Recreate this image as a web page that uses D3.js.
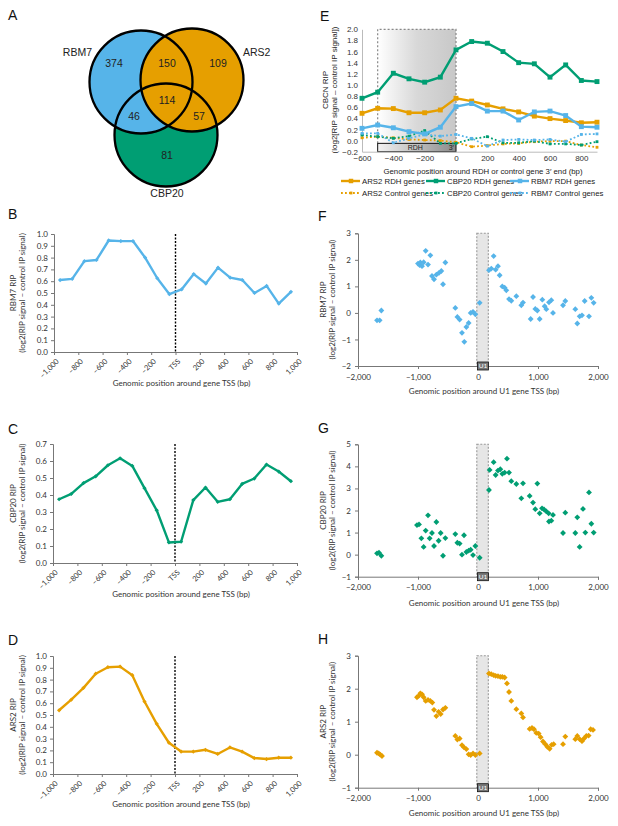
<!doctype html>
<html>
<head>
<meta charset="utf-8">
<style>
  body { margin: 0; background: #fff; }
  svg text { font-family: Lato, "Open Sans", sans-serif; fill: #333; }
  .arial text { font-family: "Liberation Sans", Arial, sans-serif; fill: #222; }
</style>
</head>
<body>
<svg id="fig" width="618" height="826"></svg>
<script src="https://d3js.org/d3.v7.min.js"></script>
<script>
// ---- data ----
var vennSets = ['RBM7', 'ARS2', 'CBP20'];
var vennRegions = ['RBM7', 'RBM7&ARS2', 'ARS2', 'RBM7&ARS2&CBP20', 'RBM7&CBP20', 'ARS2&CBP20', 'CBP20'];
var vennCounts = [374, 150, 109, 114, 46, 57, 81];

var tssPos = [-950, -850, -750, -650, -550, -450, -350, -250, -150, -50, 50, 150, 250, 350, 450, 550, 650, 750, 850, 950];
var tssTicks = [-1000, -800, -600, -400, -200, 0, 200, 400, 600, 800, 1000];
var tssTickLabels = ['\u20131,000', '\u2013800', '\u2013600', '\u2013400', '\u2013200', 'TSS', '200', '400', '600', '800', '1,000'];
var rbm7Tss = [0.61, 0.62, 0.77, 0.78, 0.945, 0.94, 0.94, 0.80, 0.625, 0.49, 0.53, 0.66, 0.58, 0.715, 0.63, 0.61, 0.50, 0.56, 0.41, 0.51];
var cbp20Tss = [0.375, 0.407, 0.47, 0.51, 0.575, 0.616, 0.571, 0.44, 0.31, 0.121, 0.125, 0.37, 0.444, 0.36, 0.375, 0.465, 0.497, 0.579, 0.538, 0.481];
var ars2Tss = [0.54, 0.63, 0.73, 0.85, 0.905, 0.91, 0.837, 0.614, 0.425, 0.265, 0.19, 0.19, 0.205, 0.17, 0.225, 0.19, 0.135, 0.127, 0.138, 0.138];

var rdhPos = [-600, -500, -400, -300, -200, -100, 0, 100, 200, 300, 400, 500, 600, 700, 800, 900];
var rdhTicks = [-600, -400, -200, 0, 200, 400, 600, 800];
var ars2Rdh = [0.49, 0.58, 0.575, 0.50, 0.50, 0.55, 0.76, 0.71, 0.64, 0.57, 0.515, 0.44, 0.395, 0.36, 0.32, 0.33];
var cbp20Rdh = [0.76, 0.87, 1.21, 1.11, 1.05, 1.14, 1.63, 1.78, 1.75, 1.60, 1.40, 1.38, 1.14, 1.36, 1.08, 1.06];
var rbm7Rdh = [0.22, 0.28, 0.23, 0.16, 0.12, 0.24, 0.61, 0.665, 0.53, 0.53, 0.37, 0.515, 0.53, 0.45, 0.25, 0.24];
var ars2Ctrl = [0.05, 0.07, 0.05, 0.02, 0.01, 0.0, -0.03, -0.11, -0.09, -0.06, -0.05, -0.02, -0.01, -0.01, -0.08, -0.12];
var cbp20Ctrl = [0.10, 0.07, 0.04, 0.08, 0.18, -0.05, -0.05, 0.03, 0.07, -0.04, -0.04, -0.01, -0.06, -0.06, -0.08, -0.02];
var rbm7Ctrl = [0.13, 0.13, -0.04, 0.04, 0.11, 0.08, 0.11, 0.04, -0.10, 0.01, 0.02, 0.01, 0.02, -0.02, 0.11, 0.12];
var rdhLegend = ['ARS2 RDH genes', 'CBP20 RDH genes', 'RBM7 RDH genes'];
var ctrlLegend = ['ARS2 Control genes', 'CBP20 Control genes', 'RBM7 Control genes'];

var u1Ticks = [-2000, -1000, 0, 1000, 2000];
var rbm7U1 = [[-1683,-0.28],[-1639,-0.28],[-1611,0.09],[-1000,1.86],[-972,1.8],[-961,1.90],[-933,1.76],[-906,1.91],[-872,2.34],[-833,1.82],
  [-794,2.17],[-767,1.39],[-733,1.27],[-694,1.44],[-650,1.51],[-611,1.58],[-583,1.08],[-544,1.90],[-378,0.19],[-344,-0.15],[-306,-0.25],
  [-267,-0.75],[-228,-1.09],[-194,-0.53],[-156,-0.38],[-122,0.0],[-83,0.04],[-44,-0.05],[28,0.38],[183,1.61],[222,1.67],[261,2.14],
  [294,1.63],[333,1.76],[361,1.42],[405,1.0],[444,0.95],[472,0.85],[517,0.52],[555,0.46],[639,0.63],[722,0.29],[750,0.39],[878,-0.23],
  [917,0.60],[955,0.15],[989,0.09],[1028,-0.23],[1072,0.50],[1111,0.25],[1139,0.14],[1183,0.40],[1222,0.48],[1250,0.0],[1417,0.29],
  [1455,0.45],[1622,0.14],[1655,-0.40],[1694,-0.13],[1733,-0.09],[1778,0.45],[1850,-0.13],[1889,0.57],[1928,0.38]];
var cbp20U1 = [[-1683,0.06],[-1650,0.09],[-1611,-0.05],[-1017,1.34],[-983,1.37],[-944,0.74],[-906,0.35],[-872,1.09],[-833,1.78],[-806,0.74],
  [-767,0.98],[-733,0.39],[-694,1.48],[-656,0.63],[-622,0.98],[-583,-0.05],[-544,0.75],[-378,0.93],[-344,0.54],[-306,0.50],[-267,0.0],
  [-233,0.88],[-194,0.12],[-156,0.18],[-122,0.22],[-83,-0.02],[-44,0.39],[28,-0.14],[183,2.93],[194,3.84],[261,4.19],[294,3.61],[333,3.81],
  [372,3.87],[405,3.66],[444,3.72],[483,4.35],[517,3.72],[555,3.33],[639,3.2],[750,3.23],[722,2.55],[861,2.66],[917,2.36],[955,2.06],
  [989,3.22],[1028,1.87],[1067,2.1],[1100,2.05],[1139,1.96],[1178,1.87],[1183,1.5],[1222,1.54],[1250,1.8],[1417,0.98],[1455,1.9],
  [1622,0.98],[1655,1.69],[1694,0.35],[1750,2.07],[1789,1.0],[1850,2.82],[1889,1.4],[1928,1.0]];
var ars2U1 = [[-1683,0.06],[-1655,0.04],[-1628,0.0],[-1600,-0.04],[-1017,1.74],[-989,1.78],[-961,1.86],[-933,1.83],[-906,1.74],[-872,1.63],
  [-833,1.66],[-794,1.63],[-761,1.58],[-733,1.36],[-694,1.17],[-656,1.30],[-622,1.23],[-583,1.37],[-544,1.42],[-378,0.57],[-344,0.46],
  [-306,0.49],[-267,0.29],[-233,0.22],[-194,0.17],[-156,0.01],[-122,-0.01],[-83,0.04],[-44,-0.01],[28,0.04],[183,2.46],[222,2.44],
  [261,2.41],[294,2.39],[333,2.38],[372,2.36],[405,2.36],[444,2.34],[483,2.16],[517,1.9],[555,1.63],[639,1.38],[722,1.25],[750,1.13],
  [861,0.78],[900,0.81],[933,0.77],[972,0.66],[1011,0.64],[1044,0.53],[1083,0.40],[1122,0.32],[1155,0.24],[1194,0.18],[1228,0.3],
  [1261,0.32],[1417,0.32],[1455,0.55],[1622,0.47],[1655,0.57],[1694,0.47],[1733,0.41],[1767,0.49],[1805,0.57],[1844,0.58],[1878,0.77],[1917,0.75]];

var blue = '#56B4E9', green = '#009E73', orange = '#E69F00';
var ylab2 = '(log2(RIP signal \u2013 control IP signal)';
var svg = d3.select('#fig');

function panelLabel(t, x, y) {
  svg.append('text').attr('x', x).attr('y', y).style('font-family', '"Liberation Sans", Arial, sans-serif')
    .style('font-size', '14px').style('fill', '#111').text(t);
}

function styleAxis(a, fs) {
  a.select('.domain').attr('stroke', '#777');
  a.selectAll('.tick line').attr('stroke', '#777');
  a.selectAll('.tick text').style('font-size', fs + 'px').style('fill', '#333');
}

function yLabels(lines, x0, midY) {
  lines.forEach(function (t, i) {
    svg.append('text').attr('transform', 'translate(' + (x0 + i * 9) + ',' + midY + ') rotate(-90)')
      .attr('text-anchor', 'middle').style('font-size', '8px').text(t);
  });
}

// ---- A: venn ----
var va = svg.append('g').attr('class', 'arial');
var circles = [
  { set: vennSets[2], cx: 166, cy: 135, fill: green },
  { set: vennSets[0], cx: 141, cy: 82, fill: blue },
  { set: vennSets[1], cx: 192, cy: 80, fill: orange }
];
va.selectAll('circle.f').data(circles).enter().append('circle')
  .attr('cx', function (d) { return d.cx; }).attr('cy', function (d) { return d.cy; })
  .attr('r', 51.5).attr('fill', function (d) { return d.fill; });
va.selectAll('circle.s').data(circles).enter().append('circle')
  .attr('cx', function (d) { return d.cx; }).attr('cy', function (d) { return d.cy; })
  .attr('r', 51.5).attr('fill', 'none').attr('stroke', '#000').attr('stroke-width', 2.3);
var regionPos = { 'RBM7': [114, 67], 'RBM7&ARS2': [167, 67], 'ARS2': [218, 67], 'RBM7&ARS2&CBP20': [167, 104],
  'RBM7&CBP20': [134, 120], 'ARS2&CBP20': [199, 120], 'CBP20': [167, 159] };
vennRegions.forEach(function (r, i) {
  va.append('text').attr('x', regionPos[r][0]).attr('y', regionPos[r][1]).attr('text-anchor', 'middle')
    .style('font-size', '10.5px').text(vennCounts[i]);
});
va.append('text').attr('x', 92).attr('y', 56).attr('text-anchor', 'end').style('font-size', '10.5px').text(vennSets[0]);
va.append('text').attr('x', 243).attr('y', 56).style('font-size', '10.5px').text(vennSets[1]);
va.append('text').attr('x', 167).attr('y', 197).attr('text-anchor', 'middle').style('font-size', '10.5px').text(vennSets[2]);
panelLabel('A', 8, 20);

// ---- B, C, D: TSS line panels ----
function tssPanel(vals, color, yMax, box, name) {
  var x = d3.scaleLinear().domain([-1000, 1000]).range([box.l, box.r]);
  var y = d3.scaleLinear().domain([0, yMax]).range([box.b, box.t]);
  var g = svg.append('g');
  var ya = g.append('g').attr('transform', 'translate(' + box.l + ',0)')
    .call(d3.axisLeft(y).ticks(Math.round(yMax * 10)).tickFormat(d3.format('.1f')).tickSize(3).tickPadding(3));
  styleAxis(ya, 8);
  var xa = g.append('g').attr('transform', 'translate(0,' + box.b + ')')
    .call(d3.axisBottom(x).tickValues(tssTicks).tickFormat(function (d, i) { return tssTickLabels[i]; }).tickSize(3));
  styleAxis(xa, 7.5);
  xa.selectAll('.tick text').attr('x', 0).attr('y', 0).attr('dy', '0.35em')
    .attr('transform', 'translate(3,8) rotate(-45)').attr('text-anchor', 'end');
  g.append('line').attr('x1', x(0)).attr('x2', x(0)).attr('y1', y(yMax)).attr('y2', y(0))
    .attr('stroke', '#000').attr('stroke-width', 1.4).attr('stroke-dasharray', '2,1.5');
  var pts = tssPos.map(function (p, i) { return [p, vals[i]]; });
  g.append('path').attr('d', d3.line().x(function (d) { return x(d[0]); }).y(function (d) { return y(d[1]); })(pts))
    .attr('fill', 'none').attr('stroke', color).attr('stroke-width', 2.4).attr('stroke-linejoin', 'round');
  g.selectAll('path.m').data(pts).enter().append('path')
    .attr('d', d3.symbol(d3.symbolSquare, 9)())
    .attr('transform', function (d) { return 'translate(' + x(d[0]) + ',' + y(d[1]) + ') rotate(45)'; })
    .attr('fill', color);
  g.append('text').attr('x', (box.l + box.r) / 2 + 6).attr('y', box.title).attr('text-anchor', 'middle')
    .style('font-size', '8px').text('Genomic position around gene TSS (bp)');
  yLabels([name + ' RIP', ylab2], 16, (box.t + box.b) / 2);
}
tssPanel(rbm7Tss, blue, 1.0, { l: 54, r: 297, t: 234, b: 352, title: 386 }, 'RBM7');
tssPanel(cbp20Tss, green, 0.7, { l: 53, r: 297, t: 444, b: 563, title: 597 }, 'CBP20');
tssPanel(ars2Tss, orange, 1.0, { l: 53, r: 297, t: 656, b: 774, title: 807 }, 'ARS2');
panelLabel('B', 8, 219);
panelLabel('C', 8, 434);
panelLabel('D', 8, 645);

// ---- E: RDH panel ----
(function () {
  var g = svg.append('g').attr('class', 'arial');
  var x = d3.scaleLinear().domain([-600, 900]).range([362, 597]);
  var y = d3.scaleLinear().domain([-0.2, 2.0]).range([151.7, 29.3]);
  var defs = svg.append('defs');
  var g1 = defs.append('linearGradient').attr('id', 'shade');
  g1.append('stop').attr('offset', '0').attr('stop-color', '#ffffff');
  g1.append('stop').attr('offset', '0.5').attr('stop-color', '#d8d8d8');
  g1.append('stop').attr('offset', '1').attr('stop-color', '#c8c8c8');
  var g2 = defs.append('linearGradient').attr('id', 'box');
  g2.append('stop').attr('offset', '0').attr('stop-color', '#f2f2f2');
  g2.append('stop').attr('offset', '1').attr('stop-color', '#8a8a8a');

  g.append('rect').attr('x', x(-500)).attr('y', y(2.0)).attr('width', x(0) - x(-500)).attr('height', y(-0.05) - y(2.0))
    .attr('fill', 'url(#shade)');
  g.append('path').attr('d', 'M' + x(-500) + ',' + y(-0.05) + 'V' + y(2.0) + 'H' + x(0) + 'V' + y(-0.05))
    .attr('fill', 'none').attr('stroke', '#888').attr('stroke-width', 1.2).attr('stroke-dasharray', '2,2');
  g.append('rect').attr('x', x(-500)).attr('y', y(-0.05)).attr('width', x(0) - x(-500)).attr('height', y(-0.2) - y(-0.05))
    .attr('fill', 'url(#box)').attr('stroke', '#111').attr('stroke-width', 1);
  g.append('text').attr('x', x(-260)).attr('y', y(-0.125) + 2.6).attr('text-anchor', 'middle').style('font-size', '7px').text('RDH');
  g.append('text').attr('x', x(-30)).attr('y', y(-0.125) + 2.6).attr('text-anchor', 'middle').style('font-size', '7px').text('3\u2032');

  var ya = g.append('g').attr('transform', 'translate(362,0)')
    .call(d3.axisLeft(y).tickValues([-0.2, 0, 0.2, 0.4, 0.6, 0.8, 1.0, 1.2, 1.4, 1.6, 1.8, 2.0]).tickFormat(d3.format('.1f')).tickSize(0).tickPadding(4));
  styleAxis(ya, 8);
  ya.select('.domain').attr('stroke', '#bbb');
  var xa = g.append('g').attr('transform', 'translate(0,' + y(-0.2) + ')')
    .call(d3.axisBottom(x).tickValues(rdhTicks).tickSize(0).tickPadding(4));
  styleAxis(xa, 8);
  xa.select('.domain').attr('stroke', '#bbb');

  var series = [
    { v: ars2Ctrl, c: orange, dash: true }, { v: cbp20Ctrl, c: green, dash: true }, { v: rbm7Ctrl, c: blue, dash: true },
    { v: ars2Rdh, c: orange }, { v: rbm7Rdh, c: blue }, { v: cbp20Rdh, c: green }
  ];
  series.forEach(function (s) {
    var pts = rdhPos.map(function (p, i) { return [p, s.v[i]]; });
    g.append('path').attr('d', d3.line().x(function (d) { return x(d[0]); }).y(function (d) { return y(d[1]); })(pts))
      .attr('fill', 'none').attr('stroke', s.c).attr('stroke-width', s.dash ? 1.8 : 2.4)
      .attr('stroke-dasharray', s.dash ? '1.8,2.2' : null);
    g.selectAll(null).data(pts).enter().append('path')
      .attr('d', d3.symbol(d3.symbolSquare, s.dash ? 8 : 24)())
      .attr('transform', function (d) { return 'translate(' + x(d[0]) + ',' + y(d[1]) + ')'; })
      .attr('fill', s.c);
  });

  g.append('text').attr('transform', 'translate(328,90) rotate(-90)').attr('text-anchor', 'middle').style('font-size', '8px').text('CBCN RIP');
  g.append('text').attr('transform', 'translate(337,90) rotate(-90)').attr('text-anchor', 'middle').style('font-size', '8px')
    .text('(log2[RIP signal \u2013 control IP signal])');
  g.append('text').attr('x', 483).attr('y', 174).attr('text-anchor', 'middle').style('font-size', '7.8px')
    .text('Genomic position around RDH or control gene 3\u2032 end (bp)');

  var cols = [361, 446, 530], legC = [orange, green, blue];
  [rdhLegend, ctrlLegend].forEach(function (row, r) {
    var yy = r === 0 ? 181 : 193;
    row.forEach(function (t, i) {
      var x1 = cols[i] - 20;
      g.append('line').attr('x1', x1).attr('x2', cols[i] - 1).attr('y1', yy).attr('y2', yy)
        .attr('stroke', legC[i]).attr('stroke-width', r === 0 ? 2.4 : 1.8).attr('stroke-dasharray', r === 0 ? null : '1.8,2.2');
      g.append('path').attr('d', d3.symbol(d3.symbolSquare, r === 0 ? 20 : 8)())
        .attr('transform', 'translate(' + (x1 + 10) + ',' + yy + ')').attr('fill', legC[i]);
      g.append('text').attr('x', cols[i] + 1).attr('y', yy + 2.7).style('font-size', '7.8px').text(t);
    });
  });
  panelLabel('E', 320, 21);
})();

// ---- F, G, H: U1 scatter panels ----
function u1Panel(pts, color, yDom, box, name) {
  var x = d3.scaleLinear().domain([-2000, 2000]).range([358, 598]);
  var y = d3.scaleLinear().domain(yDom).range([box.b, box.t]);
  var g = svg.append('g');
  g.append('rect').attr('x', x(-20)).attr('y', y(yDom[1])).attr('width', x(172) - x(-20)).attr('height', y(yDom[0]) - y(yDom[1]))
    .attr('fill', '#e6e6e6').attr('stroke', '#999').attr('stroke-width', 1.1).attr('stroke-dasharray', '2,1.5');
  var ya = g.append('g').attr('transform', 'translate(358,0)')
    .call(d3.axisLeft(y).ticks(yDom[1] - yDom[0]).tickFormat(d3.format('d')).tickSize(3).tickPadding(4));
  styleAxis(ya, 8);
  var xa = g.append('g').attr('transform', 'translate(0,' + box.b + ')')
    .call(d3.axisBottom(x).tickValues(u1Ticks).tickFormat(d3.format(',')).tickSize(3).tickPadding(5));
  styleAxis(xa, 8);
  g.append('rect').attr('x', x(0) - 0.5).attr('y', box.b - 4).attr('width', 11).attr('height', 8)
    .attr('fill', '#777').attr('stroke', '#111').attr('stroke-width', 0.8);
  g.append('text').attr('x', x(0) + 5).attr('y', box.b + 2.3).attr('text-anchor', 'middle')
    .style('font-size', '6.5px').style('fill', '#fff').text('U1');
  g.selectAll(null).data(pts).enter().append('path')
    .attr('d', d3.symbol(d3.symbolSquare, 17)())
    .attr('transform', function (d) { return 'translate(' + x(d[0]) + ',' + y(d[1]) + ') rotate(45)'; })
    .attr('fill', color);
  g.append('text').attr('x', 484).attr('y', box.title).attr('text-anchor', 'middle')
    .style('font-size', '8px').text('Genomic position around U1 gene TSS (bp)');
  yLabels([name + ' RIP', ylab2], 326, (box.t + box.b) / 2);
}
u1Panel(rbm7U1, blue, [-2, 3], { t: 233.3, b: 366, title: 394 }, 'RBM7');
u1Panel(cbp20U1, green, [-1, 5], { t: 444.3, b: 576.7, title: 606 }, 'CBP20');
u1Panel(ars2U1, orange, [-1, 3], { t: 655.7, b: 787.7, title: 816 }, 'ARS2');
panelLabel('F', 318, 221);
panelLabel('G', 318, 433);
panelLabel('H', 318, 644);
</script>
</body>
</html>
